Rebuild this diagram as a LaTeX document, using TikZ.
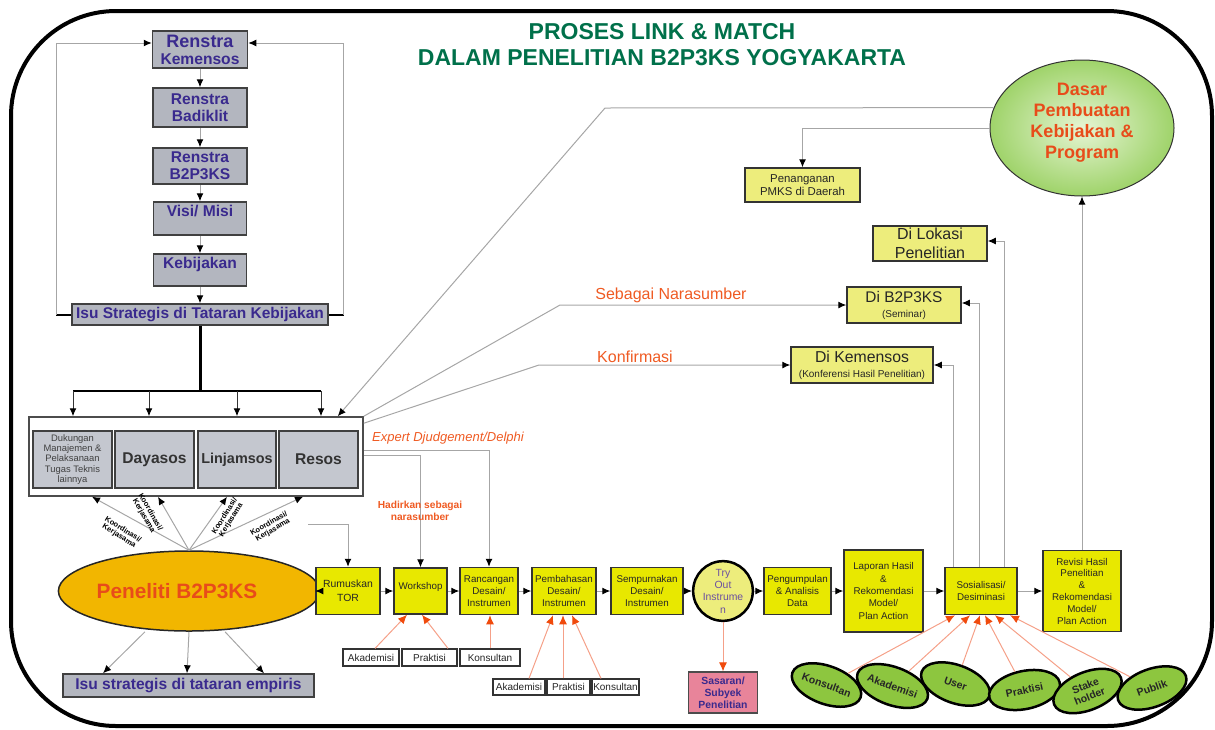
\documentclass[tikz,border=0pt]{standalone}
\usepackage{fontspec}
\setmainfont{Liberation Sans}
\usetikzlibrary{arrows.meta,shapes.geometric}

\definecolor{boxgray}{HTML}{B3B6BF}
\definecolor{innergray}{HTML}{C4C7CF}
\definecolor{navytext}{HTML}{3A2A8E}
\definecolor{procyellow}{HTML}{E8E800}
\definecolor{softyellow}{HTML}{EDED7C}
\definecolor{linkgray}{HTML}{A6A6A6}
\definecolor{salmon}{HTML}{F5A088}
\definecolor{arrowred}{HTML}{F04A0C}
\definecolor{orangetext}{HTML}{EF5A22}
\definecolor{titlegreen}{HTML}{00704A}
\definecolor{penfill}{HTML}{F2B600}
\definecolor{pentext}{HTML}{E84C1A}
\definecolor{leafgreen}{HTML}{8DC63F}
\definecolor{pinkbox}{HTML}{E8849A}
\definecolor{trytext}{HTML}{6B4FA0}
\definecolor{dasarin}{HTML}{E6F5D4}
\definecolor{dasarout}{HTML}{9FD36A}

\newcommand{\setfs}[2]{\fontsize{#1}{#2}\selectfont}

\tikzset{
  every node/.style={inner sep=0pt, align=center},
  graybox/.style={draw=black!75, line width=1.5pt, fill=boxgray, text=navytext, font=\bfseries\setfs{15.6}{17}},
  unitbox/.style={draw=black!75, line width=1.5pt, fill=innergray, text=black!80, minimum width=79pt, minimum height=57pt, font=\bfseries\setfs{15.6}{17}},
  procbox/.style={draw=black!80, line width=1.5pt, fill=procyellow, text=black!85, font=\setfs{9.8}{12.3}},
  dibox/.style={draw=black!80, line width=1.5pt, fill=softyellow, text=black!85},
  namebox/.style={draw=black!80, line width=1.2pt, fill=white, text=black!85, font=\setfs{10}{12}},
  party/.style={ellipse, draw=black, line width=2.5pt, fill=leafgreen, minimum width=72pt, minimum height=38pt, text=black!85, font=\bfseries\setfs{10.5}{11.5}},
  tilted/.style={text=black, font=\bfseries\setfs{7.5}{7.5}},
  link/.style={draw=linkgray, line width=1pt, -{Latex[color=black,length=8pt,width=7pt]}},
  busarrow/.style={draw=black!80, line width=1pt, -{Latex[color=black,length=8pt,width=7pt]}},
  redlink/.style={draw=salmon, line width=1pt, -{Latex[color=arrowred,length=9pt,width=8pt]}},
  note/.style={text=orangetext, font=\setfs{16}{18}},
}

\begin{document}
\begin{tikzpicture}[x=1pt, y=-1pt]
\useasboundingbox (0,0) rectangle (1215,729);
\draw[line width=4pt, rounded corners=105pt] (11,11) rectangle (1212,726);

\node[text=titlegreen, font=\bfseries\setfs{23}{26}] (title) at (662,45) {PROSES LINK \& MATCH\\DALAM PENELITIAN B2P3KS YOGYAKARTA};

% jalur kebijakan
\node[graybox, minimum width=95pt, minimum height=37pt] (kemensos) at (200,49.5) {{\setfs{18}{19}Renstra}\\Kemensos};
\node[graybox, minimum width=94pt, minimum height=39pt] (badiklit) at (200,107.5) {Renstra\\Badiklit};
\node[graybox, minimum width=94pt, minimum height=36pt] (renstra) at (200,166) {Renstra\\B2P3KS};
\node[graybox, minimum width=93pt, minimum height=33pt, text depth=15pt] (visi) at (200,218.5) {Visi/ Misi};
\node[graybox, minimum width=93pt, minimum height=32pt, text depth=15pt] (kebijakan) at (200,270) {Kebijakan};
\node[graybox, minimum width=256pt, minimum height=21pt, font=\bfseries\setfs{15.5}{17}] (isukeb) at (200,314.5) {Isu Strategis di Tataran Kebijakan};

\foreach \a/\b in {kemensos/badiklit, badiklit/renstra, renstra/visi, visi/kebijakan, kebijakan/isukeb}
    \draw[link] (\a) -- (\b);

\draw[line width=2pt] (isukeb.west) -- ++(-15,0) coordinate (loopL);
\draw[link] (loopL) |- ([yshift=6.5pt]kemensos.west);
\draw[line width=2pt] (isukeb.east) -- ++(15,0) coordinate (loopR);
\draw[link] (loopR) |- ([yshift=6.5pt]kemensos.east);

% unit kerja
\node[draw=black!70, line width=1.5pt, fill=white, minimum width=334pt, minimum height=79pt] (dukung) at (196,456.5) {};
\node[unitbox, font=\setfs{9.4}{10.2}, text=black!75] (dukungan) at (72.5,459.5) {Dukungan\\Manajemen \&\\Pelaksanaan\\Tugas Teknis\\lainnya};
\node[unitbox] (dayasos) at (154.5,459.5) {Dayasos};
\node[unitbox, minimum width=78pt, font=\bfseries\setfs{14.4}{16}] (linjamsos) at (237,459.5) {Linjamsos};
\node[unitbox] (resos) at (318.5,459.5) {Resos};

\draw[line width=3pt] (isukeb.south) -- (isukeb.south |- 0,391);
\draw[line width=2.5pt] (73,391) -- (321,391);
\foreach \x [count=\i] in {73,149,237,321}
{
    \coordinate (bus\i) at (\x,391);
    \draw[busarrow] (bus\i) -- (bus\i |- dukung.north);
}

% hasil kebijakan
\node[ellipse, draw=black!80, line width=1pt, inner color=dasarin, outer color=dasarout, minimum width=184pt, minimum height=136pt, text=pentext, font=\bfseries\setfs{18}{21}, text depth=14pt] (dasar) at (1082,128) {Dasar\\Pembuatan\\Kebijakan \&\\Program};
\node[dibox, minimum width=115pt, minimum height=34pt, font=\setfs{11.4}{13}] (penanganan) at (802.5,185) {Penanganan\\PMKS di Daerah};
\draw[link] (dasar.west) -| (penanganan.north);
\coordinate (bend1) at (605,108);
\draw[link] (dasar.167) -- (bend1) -- ([xshift=-26pt]dukung.north east);

\node[dibox, minimum width=114pt, minimum height=35pt, font=\setfs{16}{19.5}] (dilokasi) at (930,243.5) {Di Lokasi\\Penelitian};
\node[dibox, minimum width=114pt, minimum height=36pt, font=\setfs{15.4}{15}] (dib2) at (904,305) {Di B2P3KS\\{\setfs{10}{12}(Seminar)}};
\node[dibox, minimum width=142pt, minimum height=36pt, font=\setfs{15.8}{15}] (dikem) at (862,365) {Di Kemensos\\{\setfs{10}{12}(Konferensi Hasil Penelitian)}};

\coordinate (bend2) at (560,305);
\draw[link] (dukung.north east) -- (bend2) -- (dib2.west);
\node[note] (sebagai) at (671,295) {Sebagai Narasumber};
\coordinate (bend3) at (539,365);
\draw[link] ([yshift=-7pt]dukung.north east) -- (bend3) -- (dikem.west);
\node[note] (konfirmasi) at (635,357) {Konfirmasi};

% peneliti
\node[ellipse, draw=black!85, line width=1.5pt, fill=penfill, minimum width=220pt, minimum height=80pt, text=pentext, font=\bfseries\setfs{20.8}{22}] (peneliti) at (189,591) {Peneliti B2P3KS\hspace*{24pt}};
\foreach \s in {-104,-38,31,107}
    \draw[link] (peneliti.north) -- ([xshift=\s pt]dukung.south);
\node[tilted, rotate=-32] (koord1) at (121,533) {Koordinasi/\\Kerjasama};
\node[tilted, rotate=-60] (koord2) at (147,514) {Koordinasi/\\Kerjasama};
\node[tilted, rotate=58] (koord3) at (228,518) {Koordinasi/\\Kerjasama};
\node[tilted, rotate=30] (koord4) at (271,527) {Koordinasi/\\Kerjasama};

\node[graybox, minimum width=251pt, minimum height=23pt] (isuemp) at (188.5,685.5) {Isu strategis di tataran empiris};
\foreach \s/\t in {-44/-85.5, 0/-1.5, 36/75.5}
    \draw[link] ([xshift=\s pt]peneliti.south) -- ([xshift=\t pt]isuemp.north);

% alur penelitian
\node[procbox, minimum width=64pt, minimum height=47pt, font=\setfs{10.4}{13.5}] (rumuskan) at (348,591) {Rumuskan\\TOR};
\node[procbox, minimum width=53pt, minimum height=46pt, text depth=10pt] (workshop) at (420.5,591) {Workshop};
\node[procbox, minimum width=58pt, minimum height=47pt] (rancangan) at (489,591) {Rancangan\\Desain/\\Instrumen};
\node[procbox, minimum width=64pt, minimum height=47pt] (pembahasan) at (564,591) {Pembahasan\\Desain/\\Instrumen};
\node[procbox, minimum width=72pt, minimum height=47pt] (sempurnakan) at (647,591) {Sempurnakan\\Desain/\\Instrumen};
\node[circle, draw=black, line width=2.5pt, fill=softyellow, minimum size=52pt, text=trytext, font=\setfs{10.4}{12.3}] (tryout) at (723,591) {Try\\Out\\Instrume\\n};
\node[procbox, minimum width=67pt, minimum height=47pt] (pengumpulan) at (797.5,591) {Pengumpulan\\\& Analisis\\Data};
\node[procbox, minimum width=79pt, minimum height=82pt] (laporan) at (883.5,591) {Laporan Hasil\\\&\\Rekomendasi\\Model/\\Plan Action};
\node[procbox, minimum width=72pt, minimum height=47pt] (sosial) at (981,591) {Sosialisasi/\\Desiminasi};
\node[procbox, minimum width=78pt, minimum height=81pt, font=\setfs{9.8}{11.8}] (revisi) at (1082,591) {Revisi Hasil\\Penelitian\\\&\\Rekomendasi\\Model/\\Plan Action};

\foreach \a/\b in {peneliti/rumuskan, rumuskan/workshop, workshop/rancangan, rancangan/pembahasan, pembahasan/sempurnakan, sempurnakan/tryout, tryout/pengumpulan, pengumpulan/laporan, laporan/sosial, sosial/revisi, revisi/dasar}
    \draw[link] (\a) -- (\b);

\node[note, font=\itshape\setfs{13}{15}] (expert) at (448,438) {Expert Djudgement/Delphi};
\draw[link] ([yshift=6.5pt]dukung.east) -| (rancangan.north);
\draw[link] ([yshift=1.5pt]dukung.east) -| (workshop.north);
\node[note, font=\bfseries\setfs{10.2}{12.5}] (hadirkan) at (420,511) {Hadirkan sebagai\\narasumber};
\coordinate (torstart) at (308,524);
\draw[link] (torstart) -| (rumuskan.north);

\draw[link] (sosial.north -| 953,0) |- (dikem.east);
\draw[link] (sosial.north -| 979,0) |- ([yshift=2pt]dib2.east);
\draw[link] (sosial.north -| 1004,0) |- ([yshift=2.5pt]dilokasi.east);

% narasumber
\node[namebox, minimum width=56pt, minimum height=17pt] (akad1) at (371,657.5) {Akademisi};
\node[namebox, minimum width=55pt, minimum height=17pt] (prak1) at (429.5,657.5) {Praktisi};
\node[namebox, minimum width=60pt, minimum height=17pt] (kons1) at (490,657.5) {Konsultan};
\node[namebox, minimum width=52pt, minimum height=16pt] (akad2) at (519,687) {Akademisi};
\node[namebox, minimum width=43pt, minimum height=16pt] (prak2) at (568.5,687) {Praktisi};
\node[namebox, minimum width=47pt, minimum height=16pt] (kons2) at (615.5,687) {Konsultan};

\draw[redlink] ([xshift=4pt]akad1.north) -- ([xshift=-13.5pt]workshop.south);
\draw[redlink] ([xshift=18.5pt]prak1.north) -- ([xshift=1.5pt]workshop.south);
\draw[redlink] (kons1.north) -- ([xshift=1pt]rancangan.south);
\draw[redlink] ([xshift=10pt]akad2.north) -- ([xshift=-11pt]pembahasan.south);
\draw[redlink] ([xshift=-5.5pt]prak2.north) -- ([xshift=-1pt]pembahasan.south);
\draw[redlink] ([xshift=-14.5pt]kons2.north) -- ([xshift=8pt]pembahasan.south);

\node[draw=black!70, line width=1.2pt, fill=pinkbox, minimum width=69pt, minimum height=41pt, text=navytext, font=\bfseries\setfs{10.4}{12}] (sasaran) at (723,692.5) {Sasaran/\\Subyek\\Penelitian};
\draw[redlink] (tryout) -- (sasaran);

% pemangku kepentingan
\foreach \n/\x/\y/\r/\t in {konsultan/826.5/685/-20/Konsultan, akademisi/892.5/686/-20/Akademisi, user/955.5/684/-20/User, praktisi/1024.5/690/12/Praktisi, stake/1087.5/691/22/{Stake\\holder}, publik/1152/688/20/Publik}
    \node[party, rotate=\r] (\n) at (\x,\y) {\t};
\foreach \n/\s in {konsultan/-26, akademisi/-11, user/-1, praktisi/4, stake/14, publik/29}
    \draw[redlink] (\n) -- ([xshift=\s pt]sosial.south);

\end{tikzpicture}
\end{document}
